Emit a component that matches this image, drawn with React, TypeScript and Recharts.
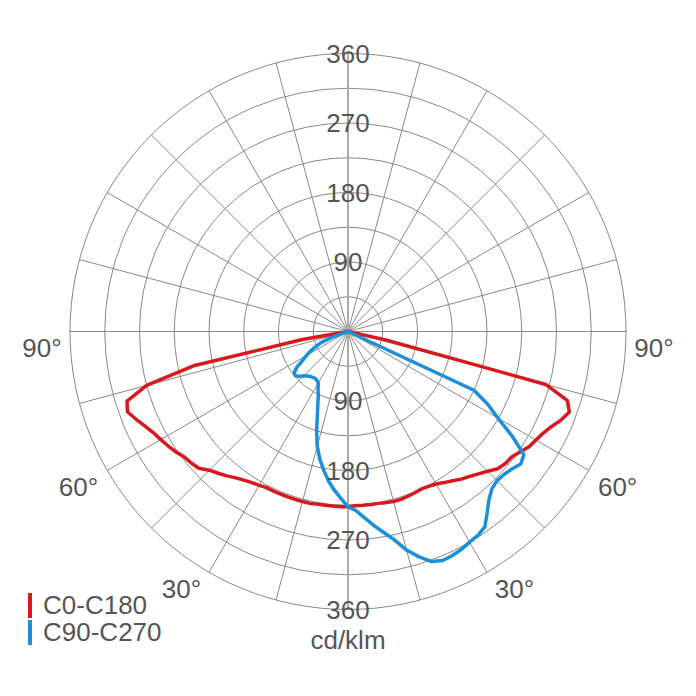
import React from "react";
import {
  Legend,
  PolarAngleAxis,
  PolarGrid,
  PolarRadiusAxis,
  Radar,
  RadarChart,
} from "recharts";

// gamma angles from nadir (deg), one row per step on each half of the diagram
const GAMMA = [
  0, 2.5, 5, 7.5, 10, 12.5, 15, 17.5, 20, 22.5, 25, 27.5, 30, 32.5, 35, 37.5,
  40, 42.5, 45, 47.5, 50, 52.5, 55, 57.5, 60, 62.5, 65, 67.5, 70, 72.5, 75,
  77.5, 80, 82.5, 85, 87.5, 90,
];

// cd/klm, right half C0 / left half C180
const C0 = [
  227, 226, 226, 226, 226, 227, 228, 228, 227, 226, 225, 226, 228, 232, 236,
  241, 245, 250, 256, 263, 266, 267, 272, 278, 281, 285, 291, 299, 305, 298,
  265, 50, 0, 0, 0, 0, 0,
];
const C180 = [
  227, 227, 227, 227, 227, 228, 228, 228, 228, 228, 228, 228, 230, 232, 235,
  239, 244, 249, 254, 262, 265, 267, 272, 276, 280, 284, 290, 297, 304, 300,
  270, 205, 60, 0, 0, 0, 0,
];

// cd/klm, right half C90 / left half C270
const C90 = [
  227, 232, 242, 253, 264, 276, 293, 306, 317, 321, 320, 318, 315, 313, 309,
  296, 284, 276, 273, 274, 277, 282, 278, 252, 224, 204, 180, 0, 0, 0, 0, 0,
  0, 0, 0, 0, 0,
];
const C270 = [
  227, 216, 206, 195, 182, 169, 154, 135, 116, 102, 91, 84, 77, 75, 74, 75,
  76, 78, 81, 86, 89, 88, 81, 70, 62, 55, 46, 37, 23, 10, 0, 0, 0, 0, 0, 0, 0,
];

const RADIUS_TICKS = [0, 45, 90, 135, 180, 225, 270, 315, 360];
const RADIUS_LABELS = [90, 180, 270, 360];
const ANGLE_TICKS = [30, 60, 90, 270, 300, 330];

const SERIES = [
  { key: "red", name: "C0-C180", color: "#d9181d" },
  { key: "blue", name: "C90-C270", color: "#1b8fdc" },
];

const SIZE = 696;
const CX = 348;
const CY = 331.5;
const OUTER = 278;
const LABEL_R = 309;
const TEXT = "#555";
const FONT = "'Liberation Sans', Arial, sans-serif";

// small hand offsets for the degree labels: [outward x, y]
const LABEL_NUDGE: Record<number, [number, number]> = {
  90: [-3, 16],
  60: [2, 1],
  30: [12, -10],
};

// left half runs from 90° down to nadir, right half goes back up to 90°
const data = [
  ...GAMMA.map((g, i) => ({ angle: 360 - g, red: C180[i], blue: C270[i] })).reverse(),
  ...GAMMA.map((g, i) => ({ angle: g, red: C0[i], blue: C90[i] })),
];

function AngleTick(props: any) {
  const { x, y, payload } = props;
  const value = Number(payload?.value);
  if (!ANGLE_TICKS.includes(value)) return null;
  const gamma = value > 180 ? 360 - value : value;
  const dx = x - CX;
  const dy = y - CY;
  const len = Math.hypot(dx, dy) || 1;
  const side = dx < 0 ? -1 : 1;
  const [nx, ny] = LABEL_NUDGE[gamma] ?? [0, 0];
  return (
    <text
      x={CX + (dx / len) * LABEL_R + side * nx}
      y={CY + (dy / len) * LABEL_R + ny}
      textAnchor="middle"
      dominantBaseline="central"
      fill={TEXT}
      fontSize={26}
      fontFamily={FONT}
    >
      {`${gamma}°`}
    </text>
  );
}

function RadiusTick(props: any) {
  const { x, y, payload } = props;
  const value = Number(payload?.value);
  if (!RADIUS_LABELS.includes(value)) return null;
  const common = {
    textAnchor: "middle" as const,
    dominantBaseline: "central" as const,
    fill: TEXT,
    fontSize: 26,
    fontFamily: FONT,
  };
  return (
    <g>
      <text x={x} y={y} {...common}>
        {value}
      </text>
      <text x={x} y={2 * CY - y} {...common}>
        {value}
      </text>
    </g>
  );
}

function LegendContent({ payload }: any) {
  return (
    <div style={{ fontFamily: FONT, fontSize: 26, color: TEXT }}>
      {(payload ?? []).map((entry: any) => {
        const color =
          SERIES.find((s) => s.key === entry.dataKey)?.color ?? entry.color;
        return (
          <div
            key={entry.value}
            style={{ display: "flex", alignItems: "center", height: 27, lineHeight: "27px" }}
          >
            <span
              style={{ width: 4, height: 25, background: color, marginRight: 11 }}
            />
            <span>{entry.value}</span>
          </div>
        );
      })}
    </div>
  );
}

export default function App() {
  return (
    <div
      style={{
        position: "absolute",
        left: 0,
        top: 0,
        width: SIZE,
        height: SIZE,
        background: "#fff",
      }}
    >
      <RadarChart
        width={SIZE}
        height={SIZE}
        data={data}
        cx={CX}
        cy={CY}
        outerRadius={OUTER}
        startAngle={-90}
        endAngle={270}
        margin={{ top: 0, right: 0, bottom: 0, left: 0 }}
      >
        <PolarGrid
          gridType="circle"
          polarAngles={Array.from({ length: 24 }, (_, i) => i * 15)}
          stroke="#888"
          strokeWidth={1}
        />
        <PolarGrid
          gridType="circle"
          polarAngles={[90, 270]}
          polarRadius={[]}
          stroke="#ababab"
          strokeWidth={2}
        />
        <PolarAngleAxis
          dataKey="angle"
          type="number"
          domain={[0, 360]}
          ticks={ANGLE_TICKS as any}
          tickCount={13}
          axisLine={false}
          tickLine={false}
          tick={AngleTick}
        />
        {SERIES.map((s) => (
          <Radar
            key={s.key}
            dataKey={s.key}
            name={s.name}
            stroke={s.color}
            strokeWidth={3.5}
            strokeLinejoin="round"
            fill="none"
            fillOpacity={0}
            dot={false}
            isAnimationActive={false}
          />
        ))}
        <PolarRadiusAxis
          angle={90}
          type="number"
          domain={[0, 360]}
          ticks={RADIUS_TICKS as any}
          tickCount={9}
          axisLine={false}
          tick={RadiusTick}
        />
        <Legend
          content={LegendContent}
          wrapperStyle={{ position: "absolute", left: 28, top: 592, width: "auto" }}
        />
      </RadarChart>
      <div
        style={{
          position: "absolute",
          left: 0,
          top: 627,
          width: SIZE,
          textAlign: "center",
          fontFamily: FONT,
          fontSize: 26,
          lineHeight: "26px",
          color: TEXT,
        }}
      >
        cd/klm
      </div>
    </div>
  );
}
